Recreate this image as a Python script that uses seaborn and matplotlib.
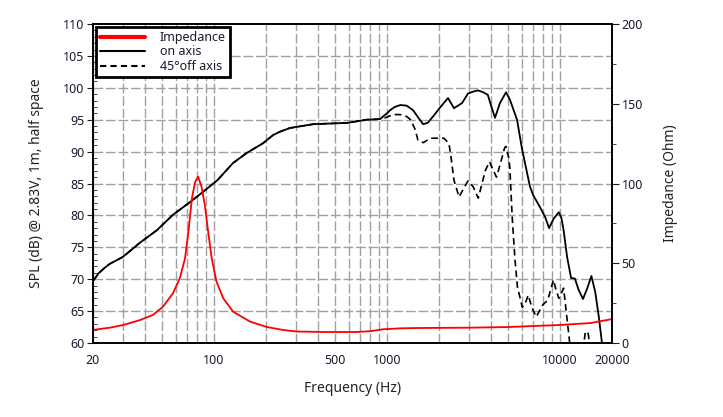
import numpy as np
import pandas as pd
import matplotlib
matplotlib.use("Agg")
import matplotlib.pyplot as plt
from matplotlib.lines import Line2D
from matplotlib.ticker import FixedLocator, NullFormatter, FixedFormatter
import seaborn as sns

# ---- data ----
on_freq = [20, 21.5, 23.4, 25, 29.8, 37.3, 46.9, 58, 72.9, 86.6, 104.6, 128.8, 155, 192, 220, 240, 275,
           375, 587, 764, 912, 1000, 1045, 1110, 1195, 1300, 1415, 1520, 1620, 1720, 1860, 2027, 2255,
           2440, 2717, 2940, 3150, 3360, 3600, 3830, 4000, 4215, 4500, 4880, 5130, 5650, 6040, 6714,
           7000, 7700, 8200, 8660, 9200, 9860, 10200, 10500, 11000, 11600, 12200, 12800, 13590,
           14400, 15200, 16000, 16800, 17500, 18200]
on_spl = [69.7, 70.9, 71.8, 72.4, 73.5, 75.7, 77.7, 80.1, 82.1, 83.7, 85.5, 88.2, 89.8, 91.3, 92.6, 93.1, 93.7,
          94.3, 94.5, 95.0, 95.1, 96.0, 96.5, 97.0, 97.3, 97.2, 96.5, 95.3, 94.3, 94.5, 95.6, 96.9, 98.4,
          96.8, 97.6, 99.1, 99.4, 99.6, 99.3, 98.9, 97.2, 95.3, 97.6, 99.3, 98.2, 95.0, 90.4, 84.5,
          83.2, 81.2, 79.8, 78.0, 79.5, 80.5, 79.6, 77.7, 73.5, 70.2, 70.1, 68.4, 66.9,
          68.6, 70.5, 68.0, 64.0, 60.0, 58.0]

off_freq = [20, 21.5, 23.4, 25, 29.8, 37.3, 46.9, 58, 72.9, 86.6, 104.6, 128.8, 155, 192, 220, 240, 275,
            375, 587, 764, 912, 977, 1042, 1110, 1195, 1300, 1370, 1449, 1512, 1620, 1786, 2000, 2133,
            2283, 2350, 2442, 2612, 2750, 2940, 3150, 3372, 3530, 3700, 3917, 4100, 4300, 4600, 4790,
            4880, 5060, 5130, 5300, 5500, 5680, 6060, 6300, 6560, 6900, 7300, 7600, 7970, 8500,
            9170, 9500, 9860, 10200, 10500, 10900, 11500, 13000, 13700, 14000, 14500, 15000, 16000]
off_spl = [69.7, 70.9, 71.8, 72.4, 73.5, 75.7, 77.7, 80.1, 82.1, 83.7, 85.5, 88.2, 89.8, 91.3, 92.6, 93.1, 93.7,
           94.3, 94.5, 95.0, 95.1, 95.3, 95.6, 95.8, 95.8, 95.5, 95.0, 93.6, 91.8, 91.4, 92.1, 92.1, 92.1,
           91.3, 89.0, 85.5, 82.9, 84.0, 85.4, 84.5, 82.7, 84.8, 87.0, 88.4, 87.2, 86.0, 88.8, 90.6,
           90.8, 89.0, 87.6, 79.7, 73.0, 68.8, 65.6, 66.2, 67.5, 65.5, 64.1, 65.0, 66.0, 66.7,
           69.9, 68.3, 67.0, 67.8, 68.6, 64.7, 59.0, 55.0, 59.5, 61.6, 61.8, 59.0, 55.0]

imp_freq = [20, 25, 30, 37.4, 44.4, 50.8, 58, 63.5, 68.1, 71.2, 74.6, 77.9, 81, 84.8, 88.6, 92.6,
            97.1, 103.5, 113.3, 129.2, 162, 203, 250, 300, 428, 669, 800, 950, 1200, 1540, 3000,
            5000, 10000, 15000, 20000]
imp_ohm = [8.2, 9.6, 11.3, 14.4, 17.6, 22.8, 31.2, 40.6, 53.1, 69.8, 90.7, 101, 104.3, 98, 86.5, 69.8,
           53.1, 38.4, 28, 19.6, 13.4, 10, 8.2, 7.2, 6.9, 6.9, 7.4, 8.6, 9.2, 9.4, 9.6,
           10, 11.3, 12.5, 15]

xtick_vals = [20, 100, 500, 1000, 10000, 20000]
xtick_labels = ["20", "100", "500", "1000", "10000", "20000"]

# ---- figure ----
sns.set_theme(style="white")
plt.rcParams['font.family'] = ['Noto Sans', 'DejaVu Sans']

fig = plt.figure(figsize=(7.23, 4.17), dpi=100)
ax = fig.add_axes([93 / 723, 1 - 343 / 417, (612 - 93) / 723, (343 - 24) / 417])
ax2 = ax.twinx()

df_on = pd.DataFrame({"f": on_freq, "spl": on_spl})
df_off = pd.DataFrame({"f": off_freq, "spl": off_spl})
df_imp = pd.DataFrame({"f": imp_freq, "ohm": imp_ohm})

sns.lineplot(data=df_on, x="f", y="spl", ax=ax, color="black", lw=1.3, sort=False, legend=False)
sns.lineplot(data=df_off, x="f", y="spl", ax=ax, color="black", lw=1.2, sort=False,
             linestyle=(0, (4, 2.5)), legend=False)
sns.lineplot(data=df_imp, x="f", y="ohm", ax=ax2, color="#ff0000", lw=1.3, sort=False, legend=False)

ax.set_xscale("log")
ax.set_xlim(20, 20000)
ax.set_ylim(60, 110)
ax2.set_ylim(0, 200)

# grid positions
minor_pos = []
for dec in [10, 100, 1000, 10000]:
    for m in range(1, 10):
        v = dec * m
        if 20 <= v <= 20000:
            minor_pos.append(v)
minor_pos.append(20000)
grid_color = "#a0a0a0"
for v in minor_pos:
    ax.axvline(v, color=grid_color, lw=1.0, ls=(0, (7, 2)), zorder=0)
for yv in range(65, 110, 5):
    ax.axhline(yv, color=grid_color, lw=1.0, ls=(0, (7, 2)), zorder=0)

ax.xaxis.set_major_locator(FixedLocator(xtick_vals))
ax.xaxis.set_major_formatter(FixedFormatter(xtick_labels))
ax.xaxis.set_minor_locator(FixedLocator([]))
ax.xaxis.set_minor_formatter(NullFormatter())
ax.tick_params(axis="x", which="both", length=0, pad=8, labelsize=9, colors="#1a1a2e")

ax.set_yticks(range(60, 111, 5))
ax.set_yticks(np.arange(60, 111, 1), minor=True)
ax.tick_params(axis="y", which="major", direction="out", length=4, width=0.8,
               labelsize=9, colors="#1a1a2e", pad=2)
ax.tick_params(axis="y", which="minor", direction="in", length=3, width=0.6, left=True)

ax2.set_yticks(range(0, 201, 50))
ax2.set_yticks(range(0, 201, 25), minor=True)
ax2.tick_params(axis="y", which="major", direction="out", length=5, width=0.8,
                labelsize=9, colors="#1a1a2e", pad=2)
ax2.tick_params(axis="y", which="minor", direction="out", length=3, width=0.6)

for a in (ax, ax2):
    for s in a.spines.values():
        s.set_color("black")
        s.set_linewidth(1.2)

ax.set_xlabel("Frequency (Hz)", fontsize=10, color="#222222", labelpad=10)
ax.set_ylabel("SPL (dB) @ 2.83V, 1m, half space", fontsize=10, color="#222222", labelpad=14)
ax2.set_ylabel("Impedance (Ohm)", fontsize=10, color="#222222", labelpad=14)

handles = [Line2D([], [], color="#ff0000", lw=3),
           Line2D([], [], color="black", lw=1.5),
           Line2D([], [], color="black", lw=1.5, ls=(0, (3, 2)))]
labels = ["Impedance", "on axis", "45°off axis"]
leg = ax2.legend(handles, labels, loc="upper left", bbox_to_anchor=(0.006, 0.99),
                 borderaxespad=0, frameon=True, fancybox=False, fontsize=9,
                 handlelength=3.6, handletextpad=1.2, labelspacing=0.12,
                 borderpad=0.3, framealpha=1)
leg.get_frame().set_edgecolor("black")
leg.get_frame().set_linewidth(2)
for t in leg.get_texts():
    t.set_color("#1a1a2e")

fig.savefig("out.png", dpi=100)
